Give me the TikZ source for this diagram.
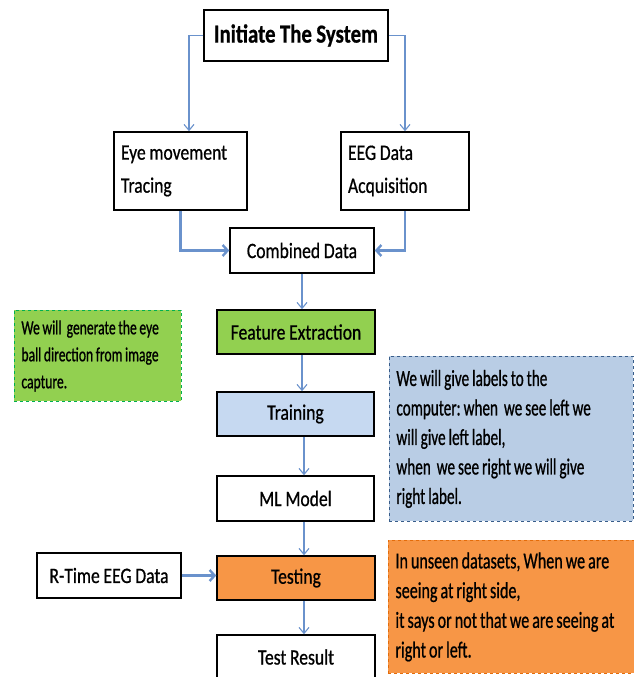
\documentclass[tikz,border=0pt]{standalone}
\usepackage{fontspec}
\setmainfont{Carlito}[FakeStretch=0.8]
\newfontfamily\boxfont{Carlito}[FakeStretch=0.8, FakeBold=0.7]
\newfontfamily\greenfont{Carlito}[FakeStretch=0.68, FakeBold=0.8]
\newfontfamily\bluefont{Carlito}[FakeStretch=0.66, FakeBold=0.8]
\newfontfamily\orangefont{Carlito}[FakeStretch=0.70, FakeBold=0.7]
\usetikzlibrary{arrows.meta}
\hyphenpenalty=10000
\exhyphenpenalty=10000
\newcommand\tsp{\spaceskip=0.17em plus 0.05em\relax}
\newcommand\nsp{\spaceskip=0.13em plus 0.04em\relax}
\definecolor{arrowblue}{HTML}{6A92CC}
\definecolor{featgreen}{HTML}{92D050}
\definecolor{trainblue}{HTML}{C6D9F1}
\definecolor{noteblue}{HTML}{B9CDE5}
\definecolor{noteblueline}{HTML}{385D8A}
\definecolor{testorange}{HTML}{F79646}
\definecolor{noteorangeline}{HTML}{E46C0A}
\definecolor{notegreenline}{HTML}{00B050}
\tikzset{
  boxstyle/.style={draw=black, line width=1.5pt, rectangle, inner sep=0pt,
    font=\boxfont\fontsize{22}{33}\selectfont},
  notestyle/.style={rectangle, dashed, line width=0.9pt, inner xsep=7pt, inner ysep=0pt,
    align=left, anchor=north west},
  arr/.style={draw=arrowblue, line width=1.1pt, -{Straight Barb[length=6pt,width=10pt]}},
  arrthick/.style={draw=arrowblue, line width=2.4pt, -{Straight Barb[length=5pt,width=11pt]}},
}
\begin{document}
\begin{tikzpicture}[x=1pt,y=-1pt]
\useasboundingbox (0,0) rectangle (634,677);
% main boxes
\node[boxstyle, minimum width=184pt, minimum height=51pt, font=\boxfont\fontsize{26}{33}\selectfont\bfseries] (init) at (296,35.5) {\tsp Initiate The System};
\node[boxstyle, minimum width=133pt, minimum height=78pt, align=left, text width=119pt] (eye) at (180.5,171) {\tsp Eye movement\\Tracing};
\node[boxstyle, minimum width=128pt, minimum height=78pt, align=left, text width=114pt] (eeg) at (405,171) {\tsp EEG Data\\Acquisition};
\node[boxstyle, minimum width=144pt, minimum height=45pt] (comb) at (302,250.5) {\tsp Combined Data};
\node[boxstyle, fill=featgreen, minimum width=158pt, minimum height=44pt] (feat) at (296,332) {\tsp Feature Extraction};
\node[boxstyle, fill=trainblue, minimum width=157pt, minimum height=44pt] (train) at (295.5,414) {Training};
\node[boxstyle, minimum width=157pt, minimum height=45pt] (ml) at (295.5,498.5) {\tsp ML Model};
\node[boxstyle, fill=testorange, minimum width=158pt, minimum height=44pt] (test) at (296,578) {Testing};
\node[boxstyle, minimum width=144pt, minimum height=45pt] (rtime) at (109,575.5) {\tsp R-Time EEG Data};
\node[boxstyle, minimum width=158pt, minimum height=44pt] (result) at (296,657) {\tsp Test Result};
% notes
\node[notestyle, draw=notegreenline, fill=featgreen, minimum width=167pt, minimum height=91pt, text width=153pt,
  font=\greenfont\fontsize{20}{27}\selectfont] (gnote) at (14,310) {\nsp We will\ \ generate the eye\\ball direction from image\\capture.};
\node[notestyle, draw=noteblueline, fill=noteblue, minimum width=244pt, minimum height=165pt, text width=230pt,
  font=\bluefont\fontsize{23}{29.5}\selectfont] (bnote) at (389,356) {\nsp We will give labels to the\\computer:\ when\ \ we see left we\\will give left label,\\when\ \ we see right we will give\\right label.};
\node[notestyle, draw=noteorangeline, fill=testorange, minimum width=249pt, minimum height=133pt, text width=235pt,
  font=\orangefont\fontsize{23}{29.7}\selectfont] (onote) at (388,540) {\nsp In unseen datasets, When we are\\seeing at right side,\\it says or not that we are seeing at\\right or left.};
% connectors
\coordinate (eyein) at ([xshift=8.5pt]eye.north);
\draw[arr] (init.west) -| (eyein);
\draw[arr] (init.east) -| (eeg.north);
\draw[arrthick] (eye.south) |- (comb.west);
\draw[arrthick] (eeg.south) |- (comb.east);
\coordinate (c1) at (302,0);
\draw[arr] (comb.south -| c1) -- (feat.north -| c1);
\draw[arr] (feat.south -| c1) -- (train.north -| c1);
\coordinate (c2) at (304,0);
\draw[arr] (train.south -| c2) -- (ml.north -| c2);
\draw[arr] (ml.south -| c2) -- (test.north -| c2);
\draw[arr] (test.south -| c2) -- (result.north -| c2);
\draw[arrthick] (rtime.east) -- (rtime.east -| test.west);
\end{tikzpicture}
\end{document}
